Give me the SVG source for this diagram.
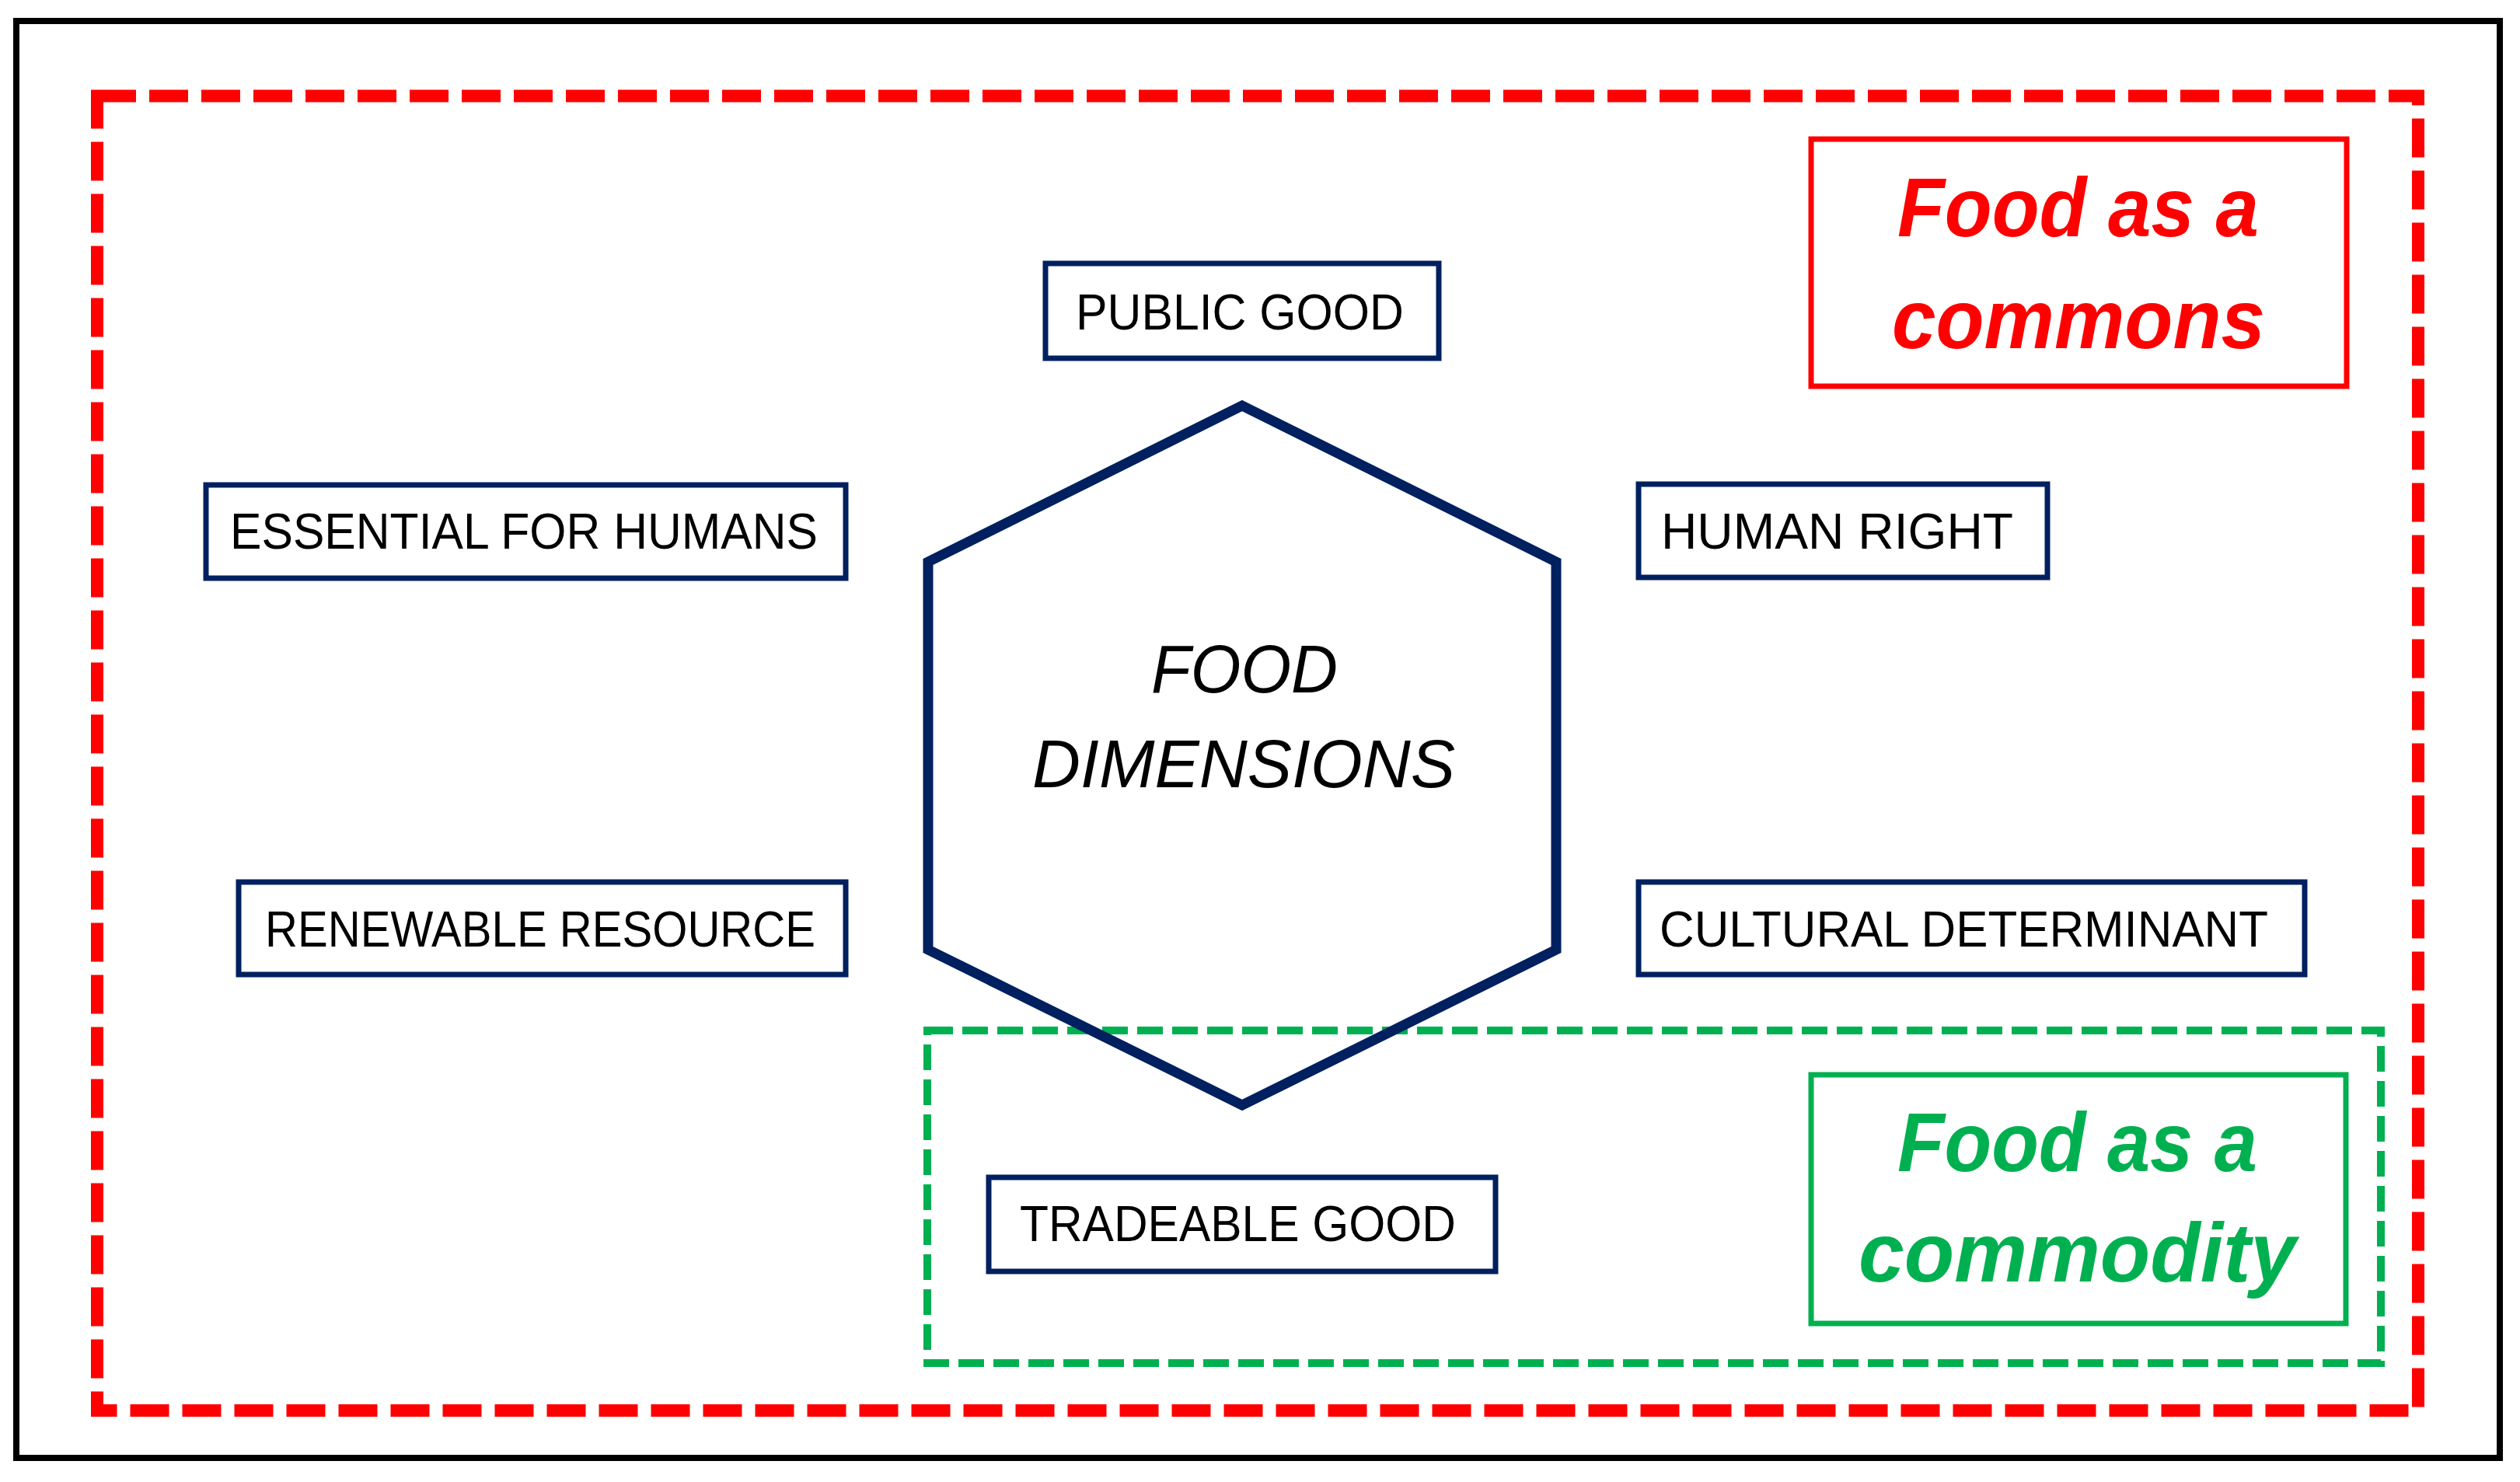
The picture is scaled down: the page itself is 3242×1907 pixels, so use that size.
<svg xmlns="http://www.w3.org/2000/svg" width="3242" height="1907" viewBox="0 0 3242 1907">
  <style>
    .frame { fill: none; stroke: #000000; stroke-width: 8; }
    .zone-red { fill: none; stroke: #FF0000; stroke-width: 16; stroke-dasharray: 50 17; }
    .zone-green { fill: none; stroke: #00B050; stroke-width: 10; stroke-dasharray: 33 12; }
    .hex { fill: none; stroke: #002060; stroke-width: 13; stroke-linejoin: miter; }
    .box { fill: #FFFFFF; stroke: #002060; stroke-width: 7; }
    .label { font-family: "Liberation Sans", Arial, sans-serif; font-size: 64px; fill: #000000; }
    .center { font-family: "Liberation Sans", Arial, sans-serif; font-size: 88px; font-style: italic; fill: #000000; }
    .tag-red { fill: #FFFFFF; stroke: #FF0000; stroke-width: 7; }
    .tag-green { fill: #FFFFFF; stroke: #00B050; stroke-width: 7; }
    .tagtext { font-family: "Liberation Sans", Arial, sans-serif; font-size: 108px; font-style: italic; font-weight: bold; }
  </style>
  <rect width="3242" height="1907" fill="#FFFFFF"/>
  <rect class="frame" x="21" y="27" width="3195" height="1849"/>

  <g id="zone-commons">
    <rect class="zone-red" x="125" y="123.5" width="2986" height="1691.5"/>
  </g>
  <g id="zone-commodity">
    <rect class="zone-green" x="1193" y="1326" width="1870" height="428"/>
  </g>

  <g id="food-dimensions">
    <polygon class="hex" points="1598,522 2002,723 2002,1222 1598,1422 1194,1222 1194,723"/>
    <text class="center" x="1481" y="891" textLength="240" lengthAdjust="spacingAndGlyphs">FOOD</text>
    <text class="center" x="1328" y="1013" textLength="544" lengthAdjust="spacingAndGlyphs">DIMENSIONS</text>
  </g>

  <g id="public-good">
    <rect class="box" x="1345" y="339" width="506" height="122"/>
    <text class="label" x="1384" y="424" textLength="422" lengthAdjust="spacingAndGlyphs">PUBLIC GOOD</text>
  </g>
  <g id="essential-for-humans">
    <rect class="box" x="265" y="624" width="823" height="120"/>
    <text class="label" x="296" y="706" textLength="756" lengthAdjust="spacingAndGlyphs">ESSENTIAL FOR HUMANS</text>
  </g>
  <g id="human-right">
    <rect class="box" x="2108" y="623" width="526" height="120"/>
    <text class="label" x="2137" y="706" textLength="453" lengthAdjust="spacingAndGlyphs">HUMAN RIGHT</text>
  </g>
  <g id="renewable-resource">
    <rect class="box" x="307" y="1135" width="781" height="119"/>
    <text class="label" x="341" y="1218" textLength="708" lengthAdjust="spacingAndGlyphs">RENEWABLE RESOURCE</text>
  </g>
  <g id="cultural-determinant">
    <rect class="box" x="2108" y="1135" width="857" height="119"/>
    <text class="label" x="2135" y="1218" textLength="783" lengthAdjust="spacingAndGlyphs">CULTURAL DETERMINANT</text>
  </g>
  <g id="tradeable-good">
    <rect class="box" x="1272" y="1515" width="652" height="121"/>
    <text class="label" x="1312" y="1597" textLength="561" lengthAdjust="spacingAndGlyphs">TRADEABLE GOOD</text>
  </g>

  <g id="food-as-commons">
    <rect class="tag-red" x="2330" y="179" width="689" height="318"/>
    <text class="tagtext" fill="#FF0000" x="2441" y="304" textLength="465" lengthAdjust="spacingAndGlyphs">Food as a</text>
    <text class="tagtext" fill="#FF0000" x="2434" y="448" textLength="480" lengthAdjust="spacingAndGlyphs">commons</text>
  </g>
  <g id="food-as-commodity">
    <rect class="tag-green" x="2330" y="1383" width="688" height="320"/>
    <text class="tagtext" fill="#00B050" x="2441" y="1507" textLength="463" lengthAdjust="spacingAndGlyphs">Food as a</text>
    <text class="tagtext" fill="#00B050" x="2391" y="1649" textLength="563" lengthAdjust="spacingAndGlyphs">commodity</text>
  </g>

  <g id="connectors"/>
</svg>
